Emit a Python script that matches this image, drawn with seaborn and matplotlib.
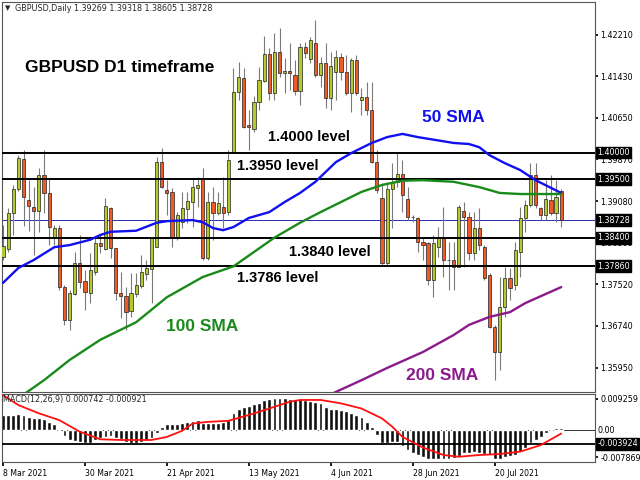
import numpy as np
import pandas as pd
import matplotlib
matplotlib.use("Agg")
import matplotlib.pyplot as plt
import seaborn as sns

# GBPUSD daily candles, 8 Mar 2021 - 6 Aug 2021
dates = pd.bdate_range("2021-03-08", periods=110)
opens = [1.3803, 1.3819, 1.3886, 1.3931, 1.3988, 1.3911, 1.3898, 1.3890, 1.3958, 1.3924,
         1.3841, 1.3858, 1.3747, 1.3685, 1.3734, 1.3792, 1.3758, 1.3736, 1.3775, 1.3830,
         1.3819, 1.3896, 1.3821, 1.3736, 1.3730, 1.3702, 1.3734, 1.3749, 1.3772, 1.3781,
         1.3822, 1.3982, 1.3930, 1.3926, 1.3839, 1.3869, 1.3894, 1.3907, 1.3933, 1.3952,
         1.3802, 1.3907, 1.3886, 1.3898, 1.3888, 1.4001, 1.4114, 1.4140, 1.4052, 1.4044,
         1.4095, 1.4135, 1.4185, 1.4112, 1.4189, 1.4150, 1.4153, 1.4146, 1.4116, 1.4198,
         1.4176, 1.4206, 1.4146, 1.4168, 1.4103, 1.4151, 1.4180, 1.4151, 1.4112, 1.4174,
         1.4099, 1.4104, 1.4080, 1.3982, 1.3915, 1.3792, 1.3931, 1.3945, 1.3960, 1.3913,
         1.3879, 1.3877, 1.3832, 1.3830, 1.3760, 1.3822, 1.3841, 1.3798, 1.3798, 1.3785,
         1.3890, 1.3879, 1.3811, 1.3858, 1.3822, 1.3770, 1.3672, 1.3625, 1.3710, 1.3764,
         1.3751, 1.3813, 1.3877, 1.3901, 1.3958, 1.3896, 1.3883, 1.3911, 1.3886, 1.39269]
highs = [1.3864, 1.3896, 1.3939, 1.3995, 1.4005, 1.3948, 1.3935, 1.3971, 1.4005, 1.3952,
         1.3864, 1.3864, 1.3751, 1.3742, 1.3813, 1.3845, 1.3779, 1.3811, 1.3839, 1.3845,
         1.3915, 1.3898, 1.3821, 1.3775, 1.3747, 1.3774, 1.3774, 1.3807, 1.3798, 1.3841,
         1.3992, 1.4009, 1.3948, 1.3933, 1.3888, 1.3926, 1.3926, 1.3950, 1.3954, 1.3971,
         1.3926, 1.3935, 1.3926, 1.3954, 1.4005, 1.4159, 1.4170, 1.4159, 1.4080, 1.4106,
         1.4161, 1.4219, 1.4197, 1.4225, 1.4234, 1.4178, 1.4206, 1.4174, 1.4206, 1.4208,
         1.4217, 1.4249, 1.4180, 1.4206, 1.4189, 1.4193, 1.4187, 1.4183, 1.4178, 1.4183,
         1.4121, 1.4133, 1.4133, 1.4005, 1.3943, 1.3945, 1.3980, 1.3999, 1.3986, 1.3935,
         1.3883, 1.3879, 1.3841, 1.3832, 1.3845, 1.3860, 1.3898, 1.3832, 1.3832, 1.3901,
         1.3907, 1.3888, 1.3888, 1.3896, 1.3826, 1.3774, 1.3676, 1.3766, 1.3785, 1.3783,
         1.3832, 1.3898, 1.3911, 1.3980, 1.3980, 1.3898, 1.3948, 1.3958, 1.3948, 1.39318]
lows = [1.3798, 1.3813, 1.3845, 1.3928, 1.3862, 1.3852, 1.3807, 1.3851, 1.3886, 1.3826,
        1.3826, 1.3742, 1.3676, 1.3666, 1.3732, 1.3745, 1.3704, 1.3717, 1.3770, 1.3811,
        1.3817, 1.3802, 1.3723, 1.3689, 1.3666, 1.3691, 1.3728, 1.3745, 1.3760, 1.3717,
        1.3822, 1.3933, 1.3883, 1.3822, 1.3836, 1.3858, 1.3868, 1.3860, 1.3898, 1.3798,
        1.3798, 1.3836, 1.3883, 1.3858, 1.3883, 1.3999, 1.4099, 1.4046, 1.4005, 1.4039,
        1.4080, 1.4133, 1.4099, 1.4099, 1.4142, 1.4112, 1.4118, 1.4108, 1.4089, 1.4178,
        1.4168, 1.4142, 1.4123, 1.4084, 1.4080, 1.4099, 1.4136, 1.4108, 1.4076, 1.4108,
        1.4071, 1.4071, 1.3980, 1.3924, 1.3789, 1.3789, 1.3858, 1.3935, 1.3888, 1.3873,
        1.3869, 1.3813, 1.3798, 1.3751, 1.3728, 1.3803, 1.3766, 1.3742, 1.3742, 1.3785,
        1.3785, 1.3798, 1.3798, 1.3817, 1.3760, 1.3670, 1.3572, 1.3591, 1.3691, 1.3723,
        1.3742, 1.3766, 1.3851, 1.3898, 1.3896, 1.3873, 1.3873, 1.3883, 1.3869, 1.38605]
closes = [1.3824, 1.3886, 1.3931, 1.3990, 1.3916, 1.3900, 1.3890, 1.3958, 1.3924, 1.3860,
          1.3858, 1.3747, 1.3685, 1.3736, 1.3792, 1.3757, 1.3738, 1.3779, 1.3830, 1.3824,
          1.3900, 1.3821, 1.3736, 1.3730, 1.3700, 1.3736, 1.3751, 1.3775, 1.3783, 1.3839,
          1.3982, 1.3935, 1.3924, 1.3839, 1.3883, 1.3896, 1.3909, 1.3935, 1.3939, 1.3802,
          1.3907, 1.3886, 1.3905, 1.3886, 1.3986, 1.4114, 1.4142, 1.4048, 1.4048, 1.4095,
          1.4136, 1.4185, 1.4112, 1.4189, 1.4150, 1.4153, 1.4150, 1.4116, 1.4198, 1.4187,
          1.4212, 1.4146, 1.4168, 1.4103, 1.4163, 1.4180, 1.4151, 1.4112, 1.4174, 1.4112,
          1.4104, 1.4080, 1.3982, 1.3930, 1.3792, 1.3931, 1.3945, 1.3960, 1.3920, 1.3879,
          1.3879, 1.3832, 1.3826, 1.3760, 1.3830, 1.3841, 1.3798, 1.3798, 1.3785, 1.3898,
          1.3879, 1.3811, 1.3858, 1.3826, 1.3764, 1.3672, 1.3625, 1.3710, 1.3764, 1.3745,
          1.3817, 1.3877, 1.3901, 1.3958, 1.3901, 1.3883, 1.3913, 1.3886, 1.3916, 1.38728]

# moving averages (bar index, price)
sma50_idx = [0, 3, 6, 10, 13, 17, 19, 21, 26, 30, 32, 37, 39, 41, 43, 45, 48, 52, 55, 58,
             61, 65, 68, 72, 75, 78, 81, 88, 91, 93, 95, 98, 101, 104, 109]
sma50_val = [1.3755, 1.3783, 1.3798, 1.3822, 1.3826, 1.3836, 1.3845, 1.3851, 1.3853, 1.3868,
             1.3871, 1.3873, 1.3869, 1.3858, 1.3854, 1.3860, 1.3877, 1.3888, 1.3907, 1.3924,
             1.3945, 1.3982, 1.3999, 1.4018, 1.4029, 1.4035, 1.4029, 1.4018, 1.4016, 1.4010,
             1.3995, 1.3980, 1.3967, 1.3948, 1.3924]
sma100_idx = [4, 8, 13, 19, 26, 32, 39, 45, 53, 58, 62, 66, 70, 74, 78, 82, 88, 93, 97, 101, 109]
sma100_val = [1.3545, 1.3572, 1.3610, 1.3648, 1.3681, 1.3728, 1.3766, 1.3786, 1.3840, 1.3868,
              1.3888, 1.3907, 1.3926, 1.3939, 1.3947, 1.3948, 1.3945, 1.3935, 1.3924, 1.3922,
              1.3922]
sma200_idx = [62, 65, 70, 75, 82, 88, 91, 95, 99, 102, 109]
sma200_val = [1.3535, 1.3550, 1.3572, 1.3595, 1.3625, 1.3657, 1.3676, 1.3691, 1.3700, 1.3717,
              1.3747]

levels = [1.4000, 1.3950, 1.3840, 1.3786]
last_price = 1.38728
price_ticks = [1.42210, 1.41430, 1.40650, 1.39870, 1.39080, 1.38300, 1.37520, 1.36740, 1.35950]

# MACD(12,26,9) histogram and signal
macd = [0.0045, 0.0045, 0.0046, 0.0048, 0.0045, 0.0040, 0.0035, 0.0035, 0.0032, 0.0025,
        0.0019, 0.0002, -0.0017, -0.0028, -0.0030, -0.0033, -0.0038, -0.0036, -0.0028, -0.0023,
        -0.0019, -0.0017, -0.0023, -0.0026, -0.0033, -0.0036, -0.0036, -0.0033, -0.0028, -0.0023,
        -0.0009, 0.0009, 0.0020, 0.0018, 0.0020, 0.0023, 0.0025, 0.0028, 0.0030, 0.0022,
        0.0023, 0.0023, 0.0023, 0.0025, 0.0030, 0.0052, 0.0064, 0.0069, 0.0071, 0.0076,
        0.0081, 0.0089, 0.0091, 0.0096, 0.0094, 0.0094, 0.0091, 0.0091, 0.0091, 0.0089,
        0.0087, 0.0084, 0.0079, 0.0069, 0.0064, 0.0064, 0.0061, 0.0058, 0.0052, 0.0045,
        0.0038, 0.0025, 0.0011, -0.0014, -0.0036, -0.0036, -0.0033, -0.0033, -0.0046, -0.0058,
        -0.0065, -0.0072, -0.0079, -0.0085, -0.0085, -0.0085, -0.0085, -0.0085, -0.0082, -0.0075,
        -0.0067, -0.0065, -0.0062, -0.0065, -0.0069, -0.0072, -0.0085, -0.0085, -0.0079, -0.0075,
        -0.0072, -0.0062, -0.0050, -0.0038, -0.0028, -0.0019, -0.0009, 0.0002, 0.0008, 0.000742]
sig_idx = [0, 3, 7, 11, 15, 19, 23, 27, 29, 32, 35, 37, 40, 44, 48, 52, 56, 58, 62, 66,
           70, 74, 76, 78, 82, 86, 89, 93, 97, 101, 105, 109]
sig_val = [0.0103, 0.0074, 0.0050, 0.0030, -0.0004, -0.0026, -0.0028, -0.0028, -0.0028, -0.0019,
           -0.0001, 0.0020, 0.0025, 0.0028, 0.0045, 0.0064, 0.0084, 0.0089, 0.0089, 0.0079,
           0.0064, 0.0035, 0.0011, -0.0019, -0.0050, -0.0072, -0.0077, -0.0072, -0.0069, -0.0062,
           -0.0043, -0.000921]
macd_level = -0.003924
macd_ticks = [0.009259, -0.007869]

BULL = "#b5c92c"
BEAR = "#ee5b27"

sns.set_theme(style="white")
plt.rcParams["font.family"] = ["DejaVu Sans"]

W, H = 640, 480
fig = plt.figure(figsize=(6.4, 4.8), dpi=100)


def px_box(l, t, r, b):
    return [l / W, 1 - b / H, (r - l) / W, (b - t) / H]


ax1 = fig.add_axes(px_box(1.5, 2, 595, 392))
ax2 = fig.add_axes(px_box(1.5, 393.5, 595, 461.7))

x = np.arange(len(opens))
o = np.array(opens)
c = np.array(closes)
body_col = np.where(c > o, BULL, np.where(c < o, BEAR, "black"))

# candles
ax1.axhline(last_price, color="#2a2ab8", lw=0.7, zorder=1)
ax1.vlines(x, lows, highs, color="#7a7a7a", lw=0.8, zorder=2)
ax1.bar(x, c - o, bottom=o, width=0.62, color=body_col, edgecolor="#222222",
        linewidth=0.5, zorder=3)

sns.lineplot(x=sma50_idx, y=sma50_val, ax=ax1, color="#1010f0", lw=1.7, zorder=5)
sns.lineplot(x=sma100_idx, y=sma100_val, ax=ax1, color="#1a8a1a", lw=1.7, zorder=5)
sns.lineplot(x=sma200_idx, y=sma200_val, ax=ax1, color="#8b1a8b", lw=1.7, zorder=5)

for lv in levels:
    ax1.axhline(lv, color="black", lw=1.4, zorder=4)

ax1.set_xlim(-0.3, 115.6)
ax1.set_ylim(1.35498, 1.42830)
ax1.set_xticks([])
ax1.yaxis.tick_right()
ax1.set_yticks(price_ticks)
ax1.set_yticklabels([f"{t:.5f}" for t in price_ticks])
ax1.tick_params(axis="y", labelsize=5.8, length=2, pad=2, colors="black", right=True)
ax1.set_xlabel("")
ax1.set_ylabel("")

# boxed price labels on the right scale
for lv in levels + [last_price]:
    ax1.text(1.004, lv, f"{lv:.5f}", transform=ax1.get_yaxis_transform(), color="white",
             fontsize=5.8, va="center", ha="left", clip_on=False, zorder=10,
             bbox=dict(facecolor="black", edgecolor="black", pad=1.0))

# MACD panel
ax2.bar(x, macd, width=0.75, color="#111111", zorder=2)
ax2.axhline(0, color="#333333", lw=0.7, zorder=1)
ax2.axhline(macd_level, color="black", lw=1.3, zorder=3)
sns.lineplot(x=sig_idx, y=sig_val, ax=ax2, color="#ff1010", lw=1.3, zorder=4)
ax2.set_xlim(-0.3, 115.6)
ax2.set_ylim(-0.00915, 0.01079)
ax2.yaxis.tick_right()
ax2.set_yticks(macd_ticks)
ax2.set_yticklabels([f"{t:.6f}" for t in macd_ticks])
ax2.tick_params(axis="y", labelsize=5.8, length=2, pad=2, colors="black", right=True)
ax2.text(1.004, 0, "0.00", transform=ax2.get_yaxis_transform(), color="black",
         fontsize=5.8, va="center", ha="left", clip_on=False)
ax2.text(1.004, macd_level, f"{macd_level:.6f}", transform=ax2.get_yaxis_transform(),
         color="white", fontsize=5.8, va="center", ha="left", clip_on=False, zorder=10,
         bbox=dict(facecolor="black", edgecolor="black", pad=1.0))
tick_pos = list(range(0, 110, 16))
ax2.set_xticks(tick_pos)
ax2.set_xticklabels([f"{dates[i].day} {dates[i].strftime('%b %Y')}" for i in tick_pos],
                    ha="left")
ax2.tick_params(axis="x", labelsize=5.6, length=3, pad=2, colors="black", bottom=True)
ax2.set_xlabel("")
ax2.set_ylabel("")
ax2.text(0.003, 0.91, "MACD(12,26,9) 0.000742 -0.000921", transform=ax2.transAxes,
         fontsize=5.8, va="center", ha="left", zorder=10)

for ax in (ax1, ax2):
    for sp in ax.spines.values():
        sp.set_color("#555555")
        sp.set_linewidth(0.8)

# header and annotations
fig.text(5 / W, 1 - 8.5 / H, "\u25bc", fontsize=5, va="center", ha="left")
fig.text(15 / W, 1 - 8.5 / H, "GBPUSD,Daily 1.39269 1.39318 1.38605 1.38728",
         fontsize=5.8, va="center", ha="left")
bold = dict(family=["Liberation Sans", "DejaVu Sans"], fontweight="bold", va="center", ha="left")
fig.text(25 / W, 1 - 67.5 / H, "GBPUSD D1 timeframe", fontsize=12.5, color="black", **bold)
fig.text(268 / W, 1 - 137 / H, "1.4000 level", fontsize=10.5, color="black", **bold)
fig.text(237 / W, 1 - 166.5 / H, "1.3950 level", fontsize=10.5, color="black", **bold)
fig.text(289 / W, 1 - 252 / H, "1.3840 level", fontsize=10.5, color="black", **bold)
fig.text(237 / W, 1 - 278.5 / H, "1.3786 level", fontsize=10.5, color="black", **bold)
fig.text(422 / W, 1 - 117 / H, "50 SMA", fontsize=12.5, color="#1010f0", **bold)
fig.text(166 / W, 1 - 326.5 / H, "100 SMA", fontsize=12.5, color="#1a8a1a", **bold)
fig.text(406 / W, 1 - 375 / H, "200 SMA", fontsize=12.5, color="#8b1a8b", **bold)

fig.savefig("out.png", dpi=100)
